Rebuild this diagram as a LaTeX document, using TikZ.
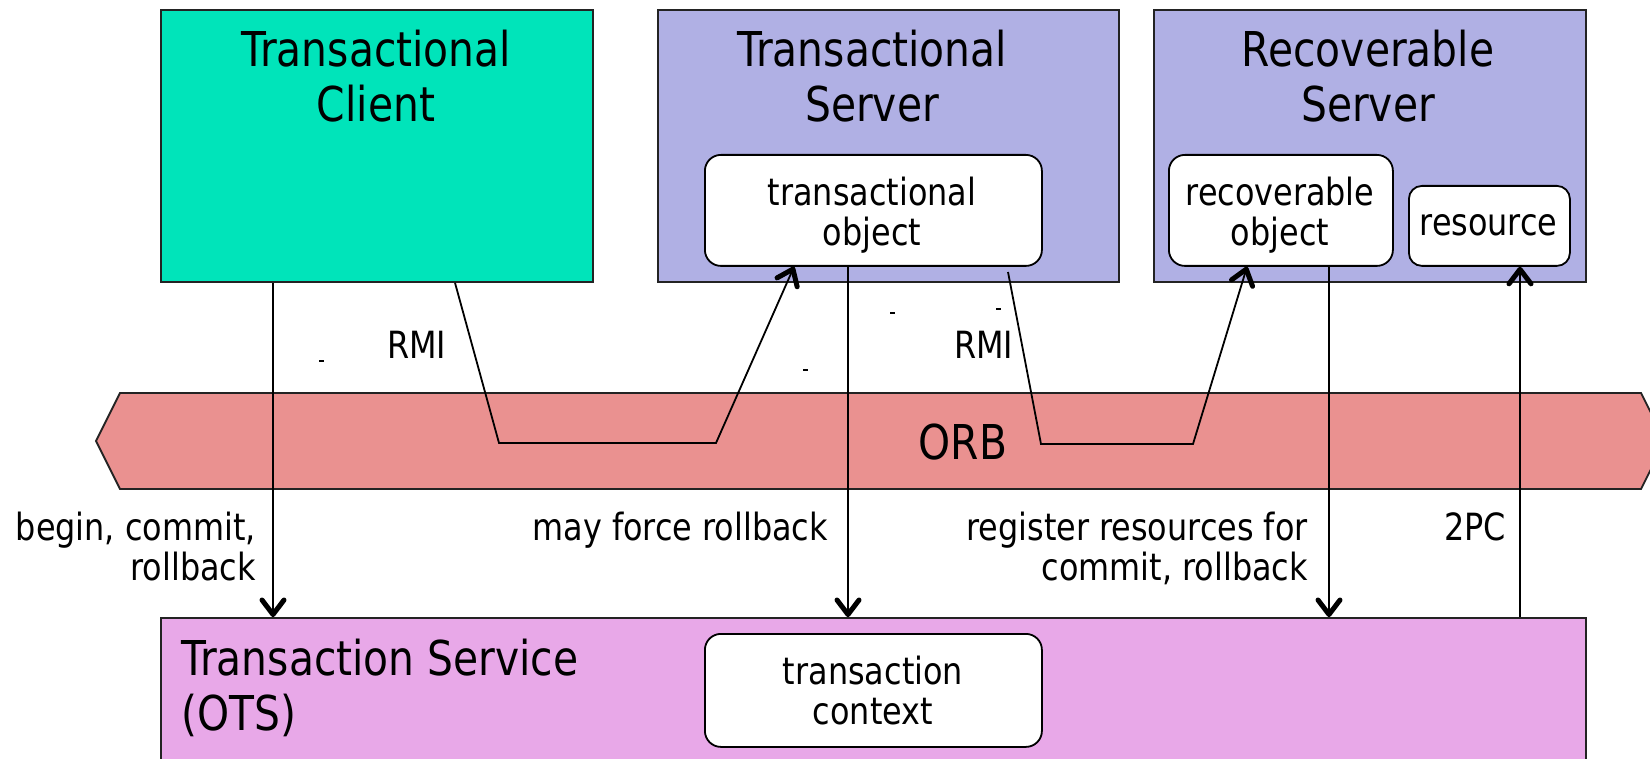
\documentclass[tikz,border=0pt]{standalone}
\usepackage{fontspec}
\setmainfont{DejaVu Sans}[FakeStretch=0.85]
\usetikzlibrary{decorations.markings}

\definecolor{clientfill}{RGB}{0,228,186}
\definecolor{serverfill}{RGB}{176,176,228}
\definecolor{orbfill}{RGB}{234,145,144}
\definecolor{otsfill}{RGB}{232,168,232}
\definecolor{edgecol}{RGB}{35,35,35}

\begin{document}
\begin{tikzpicture}[x=1pt,y=-1pt,
  box/.style={draw=edgecol, line width=1.8pt, inner sep=0pt, anchor=north west},
  objbox/.style={draw=black, line width=1.8pt, fill=white, rounded corners=16pt,
                 inner sep=0pt, anchor=north west},
  bigtext/.style={font=\fontsize{48}{55}\selectfont, align=center, inner sep=0pt},
  smalltext/.style={font=\fontsize{37.5}{40}\selectfont, align=center, inner sep=0pt},
  lbl/.style={font=\fontsize{37.5}{40}\selectfont, inner sep=0pt},
  conn/.style={line width=1.8pt},
  % open V head drawn with a heavier stroke than the shaft
  arr/.style={conn, postaction={decorate},
    decoration={markings, mark=at position 1 with {
      \draw[line width=5pt, line cap=round, line join=round]
        (-17pt,-11pt) -- (-2.5pt,0pt) -- (-17pt,11pt);}}}
]
\useasboundingbox (0,0) rectangle (1650,759);
\clip (0,0) rectangle (1650,759);

% ORB bus
\draw[fill=orbfill, line width=1.8pt, draw=edgecol]
  (96,441) -- (120,393) -- (1641,393) -- (1665,441) -- (1641,489) -- (120,489) -- cycle;
\node[font=\fontsize{48}{55}\selectfont, inner sep=0pt] (orb) at (963,442) {ORB};

% top row of servers
\node[box, fill=clientfill, minimum width=432pt, minimum height=272pt] (client) at (160,9) {};
\node[box, fill=serverfill, minimum width=461pt, minimum height=272pt] (tserver) at (657,9) {};
\node[box, fill=serverfill, minimum width=432pt, minimum height=272pt] (rserver) at (1153,9) {};

% (base anchor of a two-line node sits on its second line)
\node[bigtext, anchor=base] (clienttitle) at (376,122) {Transactional\\Client};
\node[bigtext, anchor=base] (tservertitle) at (872,122) {Transactional\\Server};
\node[bigtext, anchor=base] (rservertitle) at (1368,122) {Recoverable\\Server};

\node[objbox, minimum width=337pt, minimum height=111pt] (tobj) at (704,154) {};
\node[smalltext, anchor=base] at (872,246) {transactional\\object};
\node[objbox, minimum width=224pt, minimum height=111pt] (robj) at (1168,154) {};
\node[smalltext, anchor=base] at (1280,246) {recoverable\\object};
\node[objbox, rounded corners=13pt, minimum width=161pt, minimum height=80pt] (res) at (1408,185) {};
\node[smalltext, anchor=base] at (1488.5,236) {resource};

% transaction service
\node[box, fill=otsfill, minimum width=1425pt, minimum height=180pt] (ots) at (160,617) {};
\node[bigtext, align=left, anchor=base west] (otstitle) at (181,730) {Transaction Service\\(OTS)};
\node[objbox, minimum width=337pt, minimum height=113pt] (tctx) at (704,633) {};
\node[smalltext, anchor=base] at (873,724) {transaction\\context};

% calls into the transaction service
\draw[arr] (client.south -| 273,0) -- (ots.north -| 273,0);
\draw[arr] (tobj.south -| 848,0) -- (ots.north -| 848,0);
\draw[arr] (robj.south -| 1329,0) -- (ots.north -| 1329,0);
\draw[arr] (ots.north -| 1520,0) -- (res.south -| 1520,0);

\node[lbl, align=right, anchor=base east] (l1) at (256,580) {begin, commit,\\rollback};
\node[lbl, anchor=base east] (l2) at (828,540) {may force rollback};
\node[lbl, align=right, anchor=base east] (l3) at (1308,580) {register resources for\\commit, rollback};
\node[lbl, anchor=base west] (l4) at (1444,540) {2PC};

% RMI invocations through the ORB
\coordinate (rmistart) at (1008,272);
\draw[arr] (client.south -| 455,0) -- (499,443) -- (716,443) -- (tobj.south -| 794,0);
\draw[arr] (rmistart) -- (1041,444) -- (1193,444) -- (robj.south -| 1247,0);
\node[lbl, anchor=base west] (rmi1) at (387,359) {RMI};
\node[lbl, anchor=base west] (rmi2) at (954,359) {RMI};

% small stray strokes
\draw[line width=1.2pt] (319,361) -- (324,361);
\draw[line width=1.2pt] (803,370) -- (808,370);
\draw[line width=1.2pt] (890,313) -- (895,313);
\draw[line width=1.2pt] (996,309) -- (1001,309);
\end{tikzpicture}
\end{document}
